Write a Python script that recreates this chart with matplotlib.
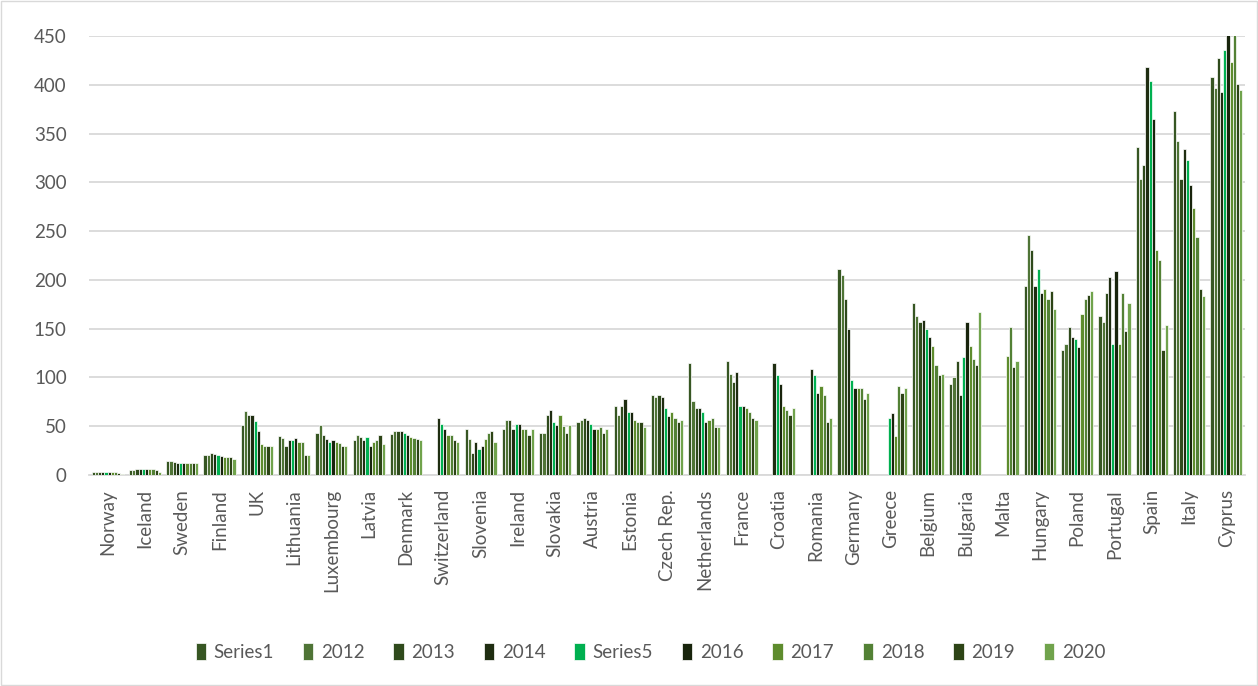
import numpy as np
import matplotlib
matplotlib.use("Agg")
import matplotlib.pyplot as plt
from matplotlib.patches import Rectangle

plt.rcParams['font.family'] = ['Lato', 'DejaVu Sans']

nan = np.nan

countries = ['Norway', 'Iceland', 'Sweden', 'Finland', 'UK', 'Lithuania', 'Luxembourg',
             'Latvia', 'Denmark', 'Switzerland', 'Slovenia', 'Ireland', 'Slovakia',
             'Austria', 'Estonia', 'Czech Rep.', 'Netherlands', 'France', 'Croatia',
             'Romania', 'Germany', 'Greece', 'Belgium', 'Bulgaria', 'Malta', 'Hungary',
             'Poland', 'Portugal', 'Spain', 'Italy', 'Cyprus']

series_names = ['Series1', '2012', '2013', '2014', 'Series5', '2016', '2017', '2018', '2019', '2020']

# values, one list per series (nan = no bar)
series1 = [3, 5, 14, 21, 51, 40, 43, 36, 42, nan, 47, 47, 43, 54, 71, 82, 115, 117, nan, nan,
           211, nan, 176, 93, nan, 194, 128, 163, 336, 373, 408]
y2012 = [3, 5, 14, 21, 66, 38, 51, 41, 45, nan, 37, 56, 43, 56, 62, 80, 76, 104, nan, nan,
         205, nan, 163, 100, nan, 246, 134, 157, 303, 342, 397]
y2013 = [3, 6, 13, 23, 62, 30, 41, 39, 45, nan, 23, 56, 62, 58, 71, 82, 69, 95, nan, nan,
         180, nan, 157, 117, nan, 231, 152, 187, 318, 303, 427]
y2014 = [3, 6, 12, 22, 62, 36, 37, 36, 45, 58, 34, 47, 67, 56, 78, 80, 69, 106, 115, 109,
         150, nan, 159, 82, nan, 194, 141, 203, 418, 334, 393]
series5 = [3, 6, 12, 21, 55, 36, 34, 39, 43, 52, 27, 52, 54, 52, 65, 69, 65, 71, 102, 102,
           97, 58, 150, 121, nan, 211, 139, 134, 404, 323, 436]
y2016 = [3, 6, 12, 19, 45, 38, 36, 30, 41, 47, 30, 52, 51, 47, 65, 60, 54, 71, 93, 84,
         89, 64, 141, 157, nan, 187, 131, 209, 365, 297, 465]
y2017 = [3, 6, 12, 18, 32, 34, 34, 34, 39, 41, 37, 47, 62, 47, 56, 65, 56, 69, 71, 91,
         89, 40, 132, 132, 122, 191, 165, 134, 231, 274, 423]
y2018 = [3, 6, 12, 18, 30, 34, 33, 36, 38, 41, 43, 47, 50, 49, 54, 58, 58, 65, 67, 82,
         89, 91, 113, 119, 152, 180, 180, 187, 220, 244, 460]
y2019 = [2, 5, 12, 18, 30, 21, 30, 41, 37, 36, 45, 41, 43, 43, 54, 54, 49, 58, 62, 54,
         78, 84, 102, 113, 111, 189, 185, 148, 128, 191, 401]
y2020 = [1, 3, 12, 16, 30, 21, 30, 32, 36, 34, 34, 47, 51, 47, 49, 56, 49, 56, 69, 58,
         84, 89, 104, 167, 117, 170, 189, 176, 154, 183, 395]

all_series = [series1, y2012, y2013, y2014, series5, y2016, y2017, y2018, y2019, y2020]
colors = ['#375623', '#4F7436', '#2F4A1C', '#1F2D11', '#00B050',
          '#18240C', '#5E8C2D', '#538135', '#2D4416', '#70A34C']

fig = plt.figure(figsize=(12.58, 6.86), dpi=100)
ax = fig.add_axes([89 / 1258, 1 - 475 / 686, 1156 / 1258, (475 - 36) / 686])

x = np.arange(len(countries))
w = 0.086
for j, (vals, name, col) in enumerate(zip(all_series, series_names, colors)):
    ax.bar(x + (j - 4.5) * w, vals, width=w, color=col, edgecolor='white',
           linewidth=0.5, label=name, zorder=3)

ax.set_xlim(-0.5, len(countries) - 0.5)
ax.set_ylim(0, 450)
ax.set_yticks(np.arange(0, 451, 50))
ax.grid(axis='y', color='#D9D9D9', linewidth=1.3, zorder=0)
ax.set_axisbelow(True)
for s in ['top', 'right', 'left']:
    ax.spines[s].set_visible(False)
ax.spines['bottom'].set_color('#D9D9D9')
ax.spines['bottom'].set_linewidth(1.3)

ax.set_xticks(x)
ax.set_xticklabels(countries, rotation=90)
ax.tick_params(axis='x', length=0, pad=10, labelsize=13.5, colors='#595959')
ax.tick_params(axis='y', length=0, pad=16, labelsize=13.5, colors='#595959')

fig.legend(loc='center', bbox_to_anchor=(0.517, 1 - 652 / 686), ncol=10, frameon=False,
           fontsize=13.5, handlelength=0.55, handleheight=1.0, handletextpad=0.4,
           columnspacing=1.55, labelcolor='#595959')

# chart area border
fig.patches.append(Rectangle((0.001, 0.001), 0.998, 0.998, transform=fig.transFigure,
                             fill=False, edgecolor='#D9D9D9', linewidth=1))

fig.savefig('out.png', dpi=100)
